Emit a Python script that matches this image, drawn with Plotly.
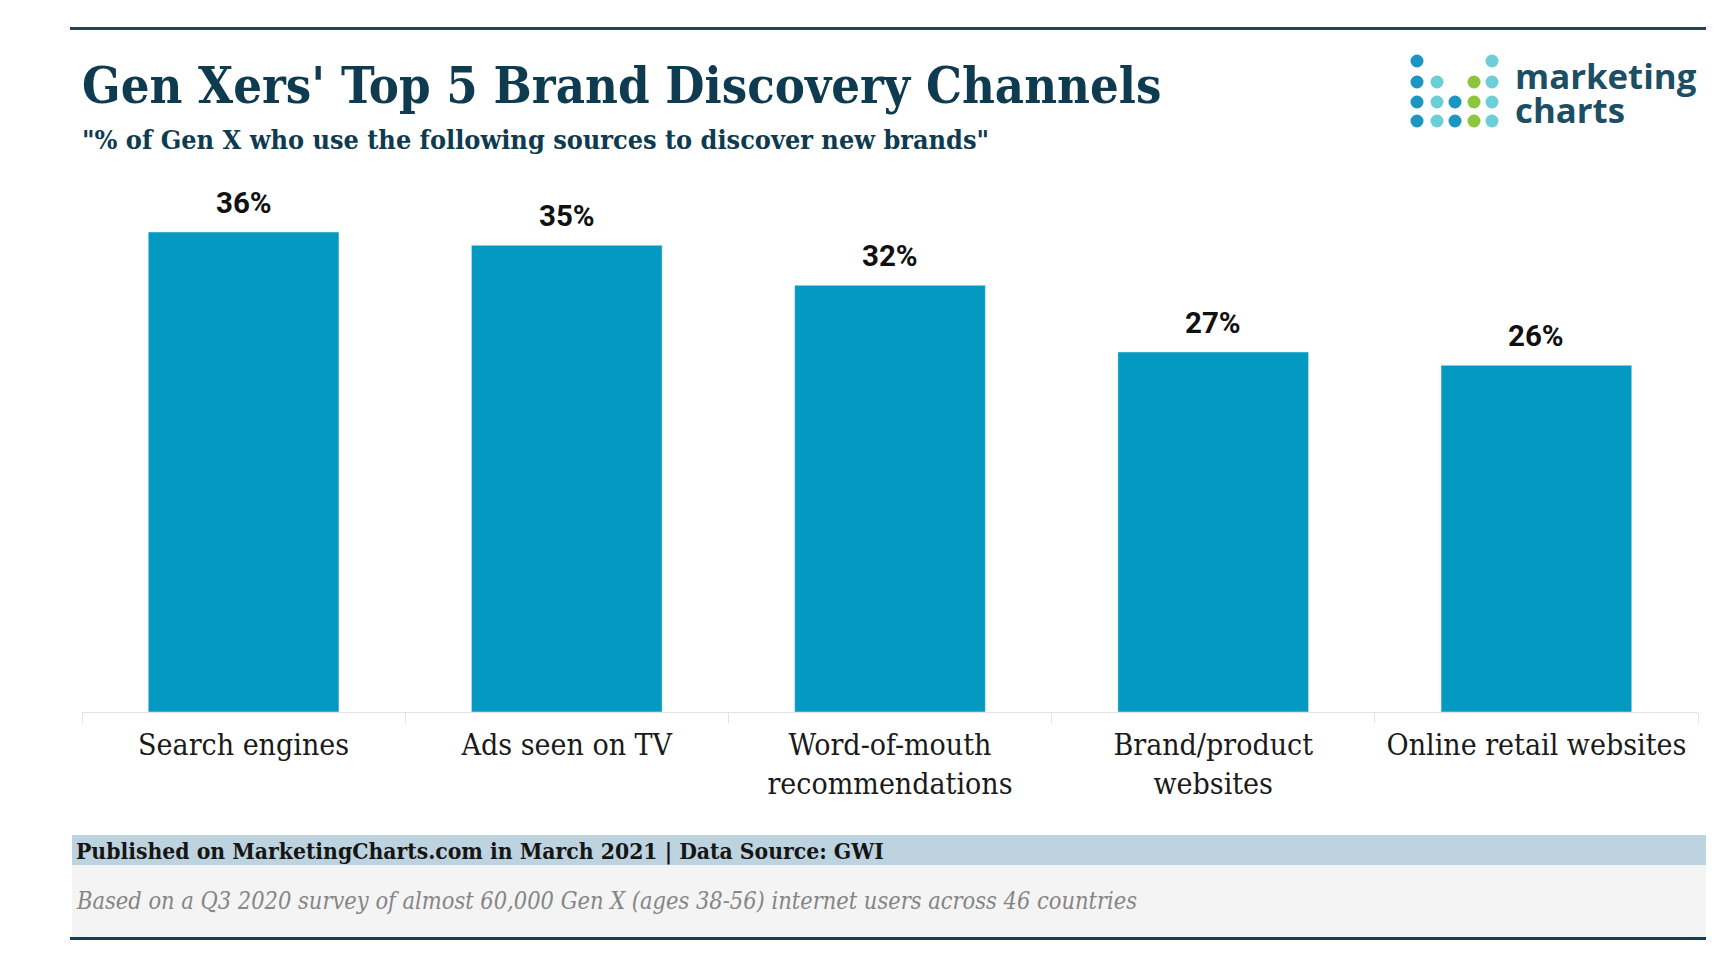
import plotly.graph_objects as go

categories = ["Search engines", "Ads seen on TV", "Word-of-mouth<br>recommendations",
              "Brand/product<br>websites", "Online retail websites"]
values = [36, 35, 32, 27, 26]

title = "Gen Xers' Top 5 Brand Discovery Channels"
subtitle = "\"% of Gen X who use the following sources to discover new brands\""
source = "Published on MarketingCharts.com in March 2021 | Data Source: GWI"
note = "Based on a Q3 2020 survey of almost 60,000 Gen X (ages 38-56) internet users across 46 countries"

# page has an 8px body margin; work in page pixel coordinates and convert
OFF = 8
W, H = 1714 - OFF, 933
PX0, PX1, PY0, PY1 = 82, 1698, 170, 712  # plot area in page pixels
ML, MR, MT, MB = PX0 - OFF, W - (PX1 - OFF), PY0 - OFF, H - (PY1 - OFF)
PW, PH = PX1 - PX0, PY1 - PY0

def px(x):
    return (x - PX0) / PW

def py(y):
    return (PY1 - y) / PH

SLAB = "DejaVu Serif Condensed, DejaVu Serif, serif"
BAR = "#0499c1"
NAVY = "#0e3b4f"

fig = go.Figure(go.Bar(x=categories, y=values, marker_color=BAR, width=0.59,
                       hoverinfo="skip"))

annotations = []
for c, v in zip(categories, values):
    annotations.append(dict(x=c, y=v, text=f"<b>{v}%</b>", showarrow=False, yanchor="bottom",
                            yshift=10, font=dict(family="Roboto", size=29.5, color="#111111"),
                            xref="x", yref="y"))

def txt(x, y, t, size, color, family=SLAB, anchor="left", yanchor="middle"):
    annotations.append(dict(x=px(x), y=py(y), xref="paper", yref="paper", text=t,
                            showarrow=False, xanchor=anchor, yanchor=yanchor,
                            font=dict(family=family, size=size, color=color)))

txt(80, 85, f"<b>{title}</b>", 50.3, NAVY)
txt(80, 139, f"<b>{subtitle}</b>", 26.8, NAVY)
txt(74, 851, f"<b>{source}</b>", 22.7, "#151515")
txt(74, 901, f"<i>{note}</i>", 23.4, "#858585")
txt(1513, 75, "<b>marketing</b>", 34.8, "#1c4e64", family="Open Sans")
txt(1513, 110, "<b>charts</b>", 34.8, "#1c4e64", family="Open Sans")

shapes = []
def rect(x0, y0, x1, y1, color):
    shapes.append(dict(type="rect", xref="paper", yref="paper", x0=px(x0), x1=px(x1),
                       y0=py(y0), y1=py(y1), fillcolor=color, line=dict(width=0), layer="below"))

rect(70, 27, 1714, 30, "#1b4a5c")
rect(72, 835, 1710, 865, "#bdd3df")
rect(72, 865, 1710, 937, "#f4f4f4")
rect(70, 937, 1714, 940, "#163f52")

# logo dots
DK, LT, GR = "#1b96c2", "#6dcfd6", "#8cc63f"
cols = [1417, 1437, 1455, 1474, 1492]
rows = [61, 82, 102, 121]
pattern = [
    [DK, None, None, None, LT],
    [DK, LT, None, GR, LT],
    [DK, LT, DK, GR, LT],
    [DK, LT, DK, GR, LT],
]
r = 6.5
for ri, row in enumerate(pattern):
    for ci, col in enumerate(row):
        if col:
            cx, cy = cols[ci], rows[ri]
            shapes.append(dict(type="circle", xref="paper", yref="paper",
                               x0=px(cx - r), x1=px(cx + r), y0=py(cy + r), y1=py(cy - r),
                               fillcolor=col, line=dict(width=0)))

fig.update_layout(
    width=W, height=H, margin=dict(l=ML, r=MR, t=MT, b=MB, autoexpand=False),
    paper_bgcolor="white", plot_bgcolor="white",
    bargap=0.41, showlegend=False,
    annotations=annotations, shapes=shapes,
    xaxis=dict(showline=True, linecolor="#e3e3e3", linewidth=1, ticks="outside",
               tickson="boundaries", ticklen=10, tickcolor="#e3e3e3", showgrid=False,
               ticklabelstandoff=6, tickangle=0, automargin=False,
               tickfont=dict(family=SLAB, size=30, color="#1a1a1a"), fixedrange=True),
    yaxis=dict(range=[0, PH / 13.333], visible=False, showgrid=False, fixedrange=True,
               automargin=False),
)

fig.write_html("out.html")
